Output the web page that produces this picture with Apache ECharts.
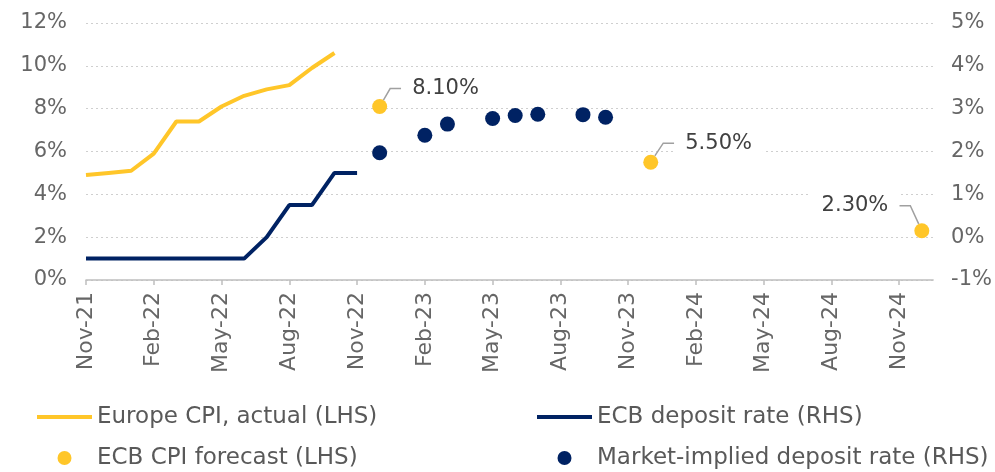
<!DOCTYPE html>
<html>
<head>
<meta charset="utf-8">
<script src="https://cdn.jsdelivr.net/npm/echarts@6/dist/echarts.min.js"></script>
<style>
  html, body { margin: 0; padding: 0; background: #fff; }
  #main { width: 995px; height: 472px; }
</style>
</head>
<body>
<div id="main"></div>
<script>
// tick labels on the time axis (every 3 months)
var tickLabels = ['Nov-21', 'Feb-22', 'May-22', 'Aug-22', 'Nov-22', 'Feb-23', 'May-23',
    'Aug-23', 'Nov-23', 'Feb-24', 'May-24', 'Aug-24', 'Nov-24'];

// monthly actuals, Nov-21 onwards
var cpiDates = ['Nov-21', 'Dec-21', 'Jan-22', 'Feb-22', 'Mar-22', 'Apr-22', 'May-22',
    'Jun-22', 'Jul-22', 'Aug-22', 'Sep-22', 'Oct-22'];
var cpiActual = [4.9, 5.0, 5.1, 5.9, 7.4, 7.4, 8.1, 8.6, 8.9, 9.1, 9.9, 10.6];

var depositDates = ['Nov-21', 'Dec-21', 'Jan-22', 'Feb-22', 'Mar-22', 'Apr-22', 'May-22',
    'Jun-22', 'Jul-22', 'Aug-22', 'Sep-22', 'Oct-22', 'Nov-22'];
var depositRate = [-0.5, -0.5, -0.5, -0.5, -0.5, -0.5, -0.5, -0.5, 0, 0.75, 0.75, 1.5, 1.5];

// ECB CPI forecasts (LHS)
var forecastDates = ['Dec-22', 'Dec-23', 'Dec-24'];
var forecastCpi = [8.1, 5.5, 2.3];

// market-implied deposit rate (RHS)
var marketDates = ['Dec-22', 'Feb-23', 'Mar-23', 'May-23', 'Jun-23', 'Jul-23', 'Sep-23', 'Oct-23'];
var marketRates = [1.97, 2.38, 2.64, 2.77, 2.84, 2.87, 2.86, 2.8];

// label placement for the forecast labels
var labelOffsets = [[9, -18], [11, -19], [-10, -25]];
var labelSides = ['right', 'right', 'left'];

var MON = ['Jan', 'Feb', 'Mar', 'Apr', 'May', 'Jun', 'Jul', 'Aug', 'Sep', 'Oct', 'Nov', 'Dec'];
function monthIdx(s) {
    var p = s.split('-');
    return (parseInt(p[1], 10) - 21) * 12 + MON.indexOf(p[0]) - 10;
}
function pairs(dates, vals) {
    return dates.map(function (d, i) { return [monthIdx(d), vals[i]]; });
}

var FONT = 'DejaVu Sans';
var YELLOW = '#FFC629';
var NAVY = '#002263';
var LINE_ICON = 'path://M0 0H55V4H0Z';
var tickValues = tickLabels.map(monthIdx);

function legendBlock(left, names) {
    return {
        orient: 'vertical',
        left: left,
        top: 403,
        padding: 0,
        itemWidth: 55,
        itemHeight: 14,
        itemGap: 13,
        itemStyle: { borderWidth: 0 },
        textStyle: { fontFamily: FONT, fontSize: 23, color: '#595959', lineHeight: 28 },
        data: [{ name: names[0], icon: LINE_ICON }, { name: names[1], icon: 'circle' }]
    };
}

var chart = echarts.init(document.getElementById('main'));
chart.setOption({
    backgroundColor: '#fff',
    animation: false,
    textStyle: { fontFamily: FONT },
    grid: { left: 86, right: 60, top: 23, bottom: 192 },
    legend: [
        legendBlock(37, ['Europe CPI, actual (LHS)', 'ECB CPI forecast (LHS)']),
        legendBlock(537, ['ECB deposit rate (RHS)', 'Market-implied deposit rate (RHS)'])
    ],
    xAxis: {
        type: 'value',
        min: 0,
        max: 37.5,
        interval: 3,
        axisLine: { lineStyle: { color: '#bfbfbf', width: 1.5 } },
        axisTick: { show: true, length: 5, customValues: tickValues, lineStyle: { color: '#bfbfbf', width: 1.5 } },
        splitLine: { show: false },
        axisLabel: {
            customValues: tickValues,
            rotate: 90,
            margin: 12,
            fontSize: 22,
            color: '#666',
            fontFamily: FONT,
            formatter: function (v) { return tickLabels[tickValues.indexOf(v)] || ''; }
        }
    },
    yAxis: [{
        type: 'value',
        min: 0,
        max: 12,
        interval: 2,
        axisLine: { show: false },
        axisTick: { show: false },
        axisLabel: { formatter: '{value}%', fontSize: 21, color: '#666', margin: 19, fontFamily: FONT },
        splitLine: { lineStyle: { color: '#cfcfcf', type: [2, 3], width: 1 } }
    }, {
        type: 'value',
        min: -1,
        max: 5,
        interval: 1,
        axisLine: { show: false },
        axisTick: { show: false },
        axisLabel: { formatter: '{value}%', fontSize: 21, color: '#666', margin: 18, fontFamily: FONT },
        splitLine: { show: false }
    }],
    series: [{
        name: 'Europe CPI, actual (LHS)',
        type: 'line',
        yAxisIndex: 0,
        symbol: 'none',
        lineStyle: { color: YELLOW, width: 4 },
        itemStyle: { color: YELLOW },
        data: pairs(cpiDates, cpiActual)
    }, {
        name: 'ECB deposit rate (RHS)',
        type: 'line',
        yAxisIndex: 1,
        symbol: 'none',
        lineStyle: { color: NAVY, width: 4 },
        itemStyle: { color: NAVY },
        data: pairs(depositDates, depositRate)
    }, {
        name: 'ECB CPI forecast (LHS)',
        type: 'scatter',
        yAxisIndex: 0,
        symbolSize: 15,
        itemStyle: { color: YELLOW, opacity: 1 },
        data: pairs(forecastDates, forecastCpi).map(function (p, i) {
            return { value: p, label: { position: labelSides[i] } };
        }),
        label: {
            show: true,
            fontSize: 21,
            fontFamily: FONT,
            color: '#404040',
            backgroundColor: '#fff',
            padding: [2, 11],
            formatter: function (p) { return p.value[1].toFixed(2) + '%'; }
        },
        labelLine: {
            show: true,
            showAbove: true,
            length2: 11,
            lineStyle: { color: '#a0a0a0', width: 1.5 }
        },
        labelLayout: function (params) {
            var o = labelOffsets[params.dataIndex];
            return { dx: o[0], dy: o[1] };
        }
    }, {
        name: 'Market-implied deposit rate (RHS)',
        type: 'scatter',
        yAxisIndex: 1,
        symbolSize: 15,
        itemStyle: { color: NAVY, opacity: 1 },
        data: pairs(marketDates, marketRates)
    }]
});
</script>
</body>
</html>
